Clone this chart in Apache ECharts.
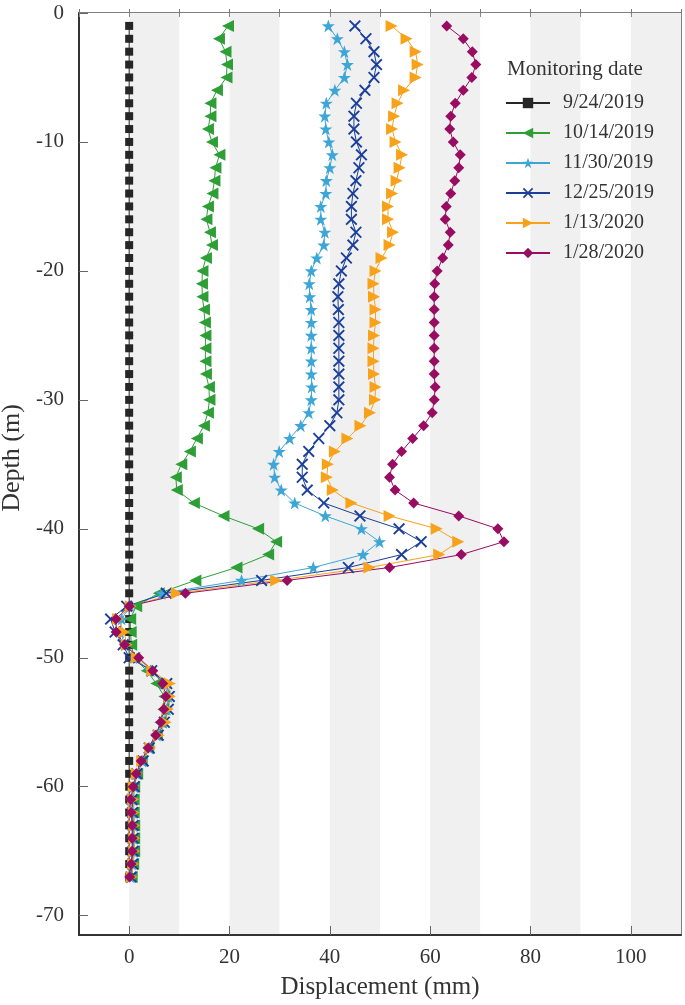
<!DOCTYPE html>
<html><head><meta charset="utf-8">
<script src="https://cdn.jsdelivr.net/npm/echarts@6/dist/echarts.min.js"></script>
<style>html,body{margin:0;padding:0;background:#fff}#c{width:685px;height:1005px}</style>
</head><body><div id="c"></div>
<script>
// ---- data (depth in m, displacement in mm) ----
const depths = [-1,-2,-3,-4,-5,-6,-7,-8,-9,-10,-11,-12,-13,-14,-15,-16,-17,-18,-19,-20,
  -21,-22,-23,-24,-25,-26,-27,-28,-29,-30,-31,-32,-33,-34,-35,-36,-37,-38,-39,-40,
  -41,-42,-43,-44,-45,-46,-47,-48,-49,-50,-51,-52,-53,-54,-55,-56,-57,-58,-59,-60,
  -61,-62,-63,-64,-65,-66,-67];
const dates = ['9/24/2019','10/14/2019','11/30/2019','12/25/2019','1/13/2020','1/28/2020'];
const xTickLabels = [0,20,40,60,80,100];
const yTickLabels = [0,-10,-20,-30,-40,-50,-60,-70];

const d20190924 = [0,0,0,0,0,0,0,0,0,0,0,0,0,0,0,0,0,0,0,0,
  0,0,0,0,0,0,0,0,0,0,0,0,0,0,0,0,0,0,0,0,
  0,0,0,0,0,0,0,0,0,0,0,0,0,0,0,0,0,0,0,0,
  0,0,0,0,0,0,0];
const d20191014 = [19.7,17.9,19.2,19.5,19.4,17.5,16.2,16.2,15.7,16.5,18.0,17.2,17.0,16.6,15.7,15.4,16.1,16.5,15.3,14.6,
  14.5,14.6,14.9,15.1,15.2,15.2,15.2,15.3,15.9,16.0,15.7,14.9,13.5,12.1,10.4,9.3,9.5,12.9,18.8,25.7,
  29.3,27.7,21.4,13.2,5.9,1.4,0.2,0.3,0.4,1.0,3.5,5.4,7.0,6.8,6.2,5.5,3.8,2.5,1.6,1.0,
  0.9,0.9,1.0,1.0,1.0,0.8,0.5];
const d20191130 = [39.7,41.5,42.9,43.5,42.9,41.0,39.3,39.0,39.2,39.8,40.5,40.0,39.3,39.2,38.2,38.2,39.0,38.8,37.4,36.3,
  35.9,36.0,36.3,36.3,36.3,36.3,36.3,36.3,36.4,36.3,35.8,34.2,32.0,29.9,28.8,29.0,30.3,33.0,39.1,46.3,
  49.9,46.6,36.7,22.4,6.5,0.2,-1.5,-1.8,-0.8,0.8,4.3,7.0,7.8,7.5,6.8,5.5,4.0,2.6,1.5,1.0,
  0.7,0.7,0.8,0.8,0.8,0.6,0.3];
const d20191225 = [45.0,47.2,48.8,49.3,48.8,47.0,45.3,44.8,44.8,45.3,46.3,45.8,45.2,44.6,44.3,44.3,45.2,44.6,43.3,42.3,
  41.8,41.6,41.7,41.8,41.8,41.8,41.8,41.8,41.8,41.8,41.4,40.0,37.8,35.8,34.5,34.5,35.5,38.8,46.0,53.8,
  58.2,54.3,43.7,26.4,7.4,-0.5,-3.7,-2.8,-1.2,0.0,4.5,7.5,8.0,7.8,7.0,5.8,4.0,2.8,1.5,1.0,
  0.6,0.7,0.8,0.8,0.8,0.7,0.4];
const d20200113 = [52.3,55.3,57.1,57.5,57.1,54.8,53.5,52.8,52.4,53.1,54.4,53.9,53.3,52.4,51.6,51.6,52.6,51.9,50.3,49.1,
  48.7,48.8,49.1,49.1,48.8,48.7,48.7,48.8,49.1,49.0,48.0,46.1,43.5,41.0,39.6,39.4,40.6,44.3,51.9,61.3,
  65.6,61.8,47.9,29.3,9.5,0.3,-2.2,-1.0,-0.5,1.5,4.6,8.1,8.1,7.7,7.3,5.9,4.2,2.6,1.5,0.9,
  0.8,0.9,1.0,1.0,1.0,0.8,0.5];
const d20200128 = [63.3,66.6,68.4,69.1,68.3,66.6,65.0,64.1,63.9,64.6,66.0,65.7,64.9,64.1,63.2,63.0,64.0,63.6,62.5,61.4,
  60.9,60.8,60.8,60.8,60.8,60.8,60.8,60.8,61.0,60.8,60.4,58.7,56.5,54.3,52.5,51.9,53.0,56.7,65.7,73.5,
  74.7,66.2,51.9,31.5,11.2,0.0,-2.6,-2.6,-0.9,1.9,4.7,6.7,7.3,6.9,6.3,5.3,3.8,2.4,1.4,0.8,
  0.3,0.4,0.6,0.6,0.6,0.4,0.1];

const seriesValues = [d20190924, d20191014, d20191130, d20191225, d20200113, d20200128];
const colors = ['#262626','#2e9e37','#3ea6d6','#1b3f99','#f8a21c','#980c62'];

const STAR = 'path://M12,0 L14.9,8.3 L23.4,8.3 L16.5,13.5 L19.1,21.8 L12,16.7 L4.9,21.8 L7.5,13.5 L0.6,8.3 L9.1,8.3 Z';
const CROSS = 'path://M1,3 L3,1 L10,8 L17,1 L19,3 L12,10 L19,17 L17,19 L10,12 L3,19 L1,17 L8,10 Z';
const symbols = [
  {symbol:'rect', size:8, rotate:0},
  {symbol:'triangle', size:12, rotate:90},
  {symbol:STAR, size:13, rotate:0},
  {symbol:CROSS, size:12, rotate:0},
  {symbol:'triangle', size:12, rotate:-90},
  {symbol:'diamond', size:11, rotate:0}
];

const FONT = '"Liberation Serif", "Times New Roman", serif';
const TXT = '#333';

const chart = echarts.init(document.getElementById('c'), null, {renderer:'canvas'});
const series = dates.map((name, i) => ({
  name: name,
  type: 'line',
  xAxisIndex: 0, yAxisIndex: 0,
  data: seriesValues[i].map((v, k) => [v, depths[k]]),
  symbol: symbols[i].symbol,
  symbolSize: symbols[i].size,
  symbolRotate: symbols[i].rotate,
  showAllSymbol: true,
  lineStyle: {color: colors[i], width: 1},
  itemStyle: {color: colors[i]},
  emphasis: {disabled: true},
  animation: false
}));

chart.setOption({
  backgroundColor: '#fff',
  animation: false,
  grid: {left: 79, top: 13, right: 4, bottom: 70, containLabel: false, outerBoundsMode: 'none',
    show: true, borderColor: '#555', borderWidth: 1.5, backgroundColor: 'transparent'},
  title: {text: 'Monitoring date', left: 507, top: 59, padding: 0,
    textStyle: {fontFamily: FONT, fontSize: 21, fontWeight: 'normal', color: TXT}},
  legend: {
    orient: 'vertical', left: 505, top: 93, padding: 0,
    itemWidth: 44, itemHeight: 13, itemGap: 10,
    textStyle: {fontFamily: FONT, fontSize: 20, lineHeight: 20, color: TXT, padding: [0,0,0,8]},
    data: dates
  },
  xAxis: [
    {
      type: 'value', position: 'bottom', min: -10, max: 110, interval: 10,
      name: 'Displacement (mm)', nameLocation: 'middle', nameGap: 40,
      nameTextStyle: {fontFamily: FONT, fontSize: 25, color: TXT},
      axisLine: {show: true, onZero: false, lineStyle: {color: '#333', width: 2}},
      axisTick: {show: true, inside: true, length: 9, customValues: [0,20,40,60,80,100], lineStyle: {color: '#666'}},
      axisLabel: {customValues: xTickLabels, margin: 12, fontFamily: FONT, fontSize: 21, color: TXT},
      splitLine: {show: false}, splitArea: {show: false}
    },
    {
      type: 'value', position: 'bottom', min: -10, max: 110, interval: 10,
      axisLine: {show: false}, axisLabel: {show: false},
      axisTick: {show: true, inside: true, length: 4, lineStyle: {color: '#777'}},
      splitLine: {show: false},
      splitArea: {show: true, areaStyle: {color: ['#ffffff', '#f0f0f0']}}
    },
    {
      type: 'value', position: 'top', min: -10, max: 110, interval: 10,
      axisLine: {show: false}, axisLabel: {show: false},
      axisTick: {show: true, inside: true, length: 4, lineStyle: {color: '#888'}},
      splitLine: {show: false}, splitArea: {show: false}
    }
  ],
  yAxis: [
    {
      type: 'value', min: -71.5, max: 0,
      name: 'Depth (m)', nameLocation: 'middle', nameGap: 46,
      nameTextStyle: {fontFamily: FONT, fontSize: 26, color: TXT, padding: [0,0,0,32]},
      axisLine: {show: true, onZero: false, lineStyle: {color: '#333', width: 2}},
      axisTick: {show: true, inside: true, length: 9, customValues: yTickLabels, lineStyle: {color: '#666'}},
      axisLabel: {customValues: yTickLabels, margin: 15, fontFamily: FONT, fontSize: 21, color: TXT},
      splitLine: {show: false}, splitArea: {show: false}
    },
    {
      type: 'value', min: -71.5, max: 0, position: 'left',
      axisLine: {show: false}, axisLabel: {show: false},
      axisTick: {show: true, inside: true, length: 4, customValues: [-5,-15,-25,-35,-45,-55,-65], lineStyle: {color: '#777'}},
      splitLine: {show: false}, splitArea: {show: false}
    }
  ],
  series: series
});
</script></body></html>
